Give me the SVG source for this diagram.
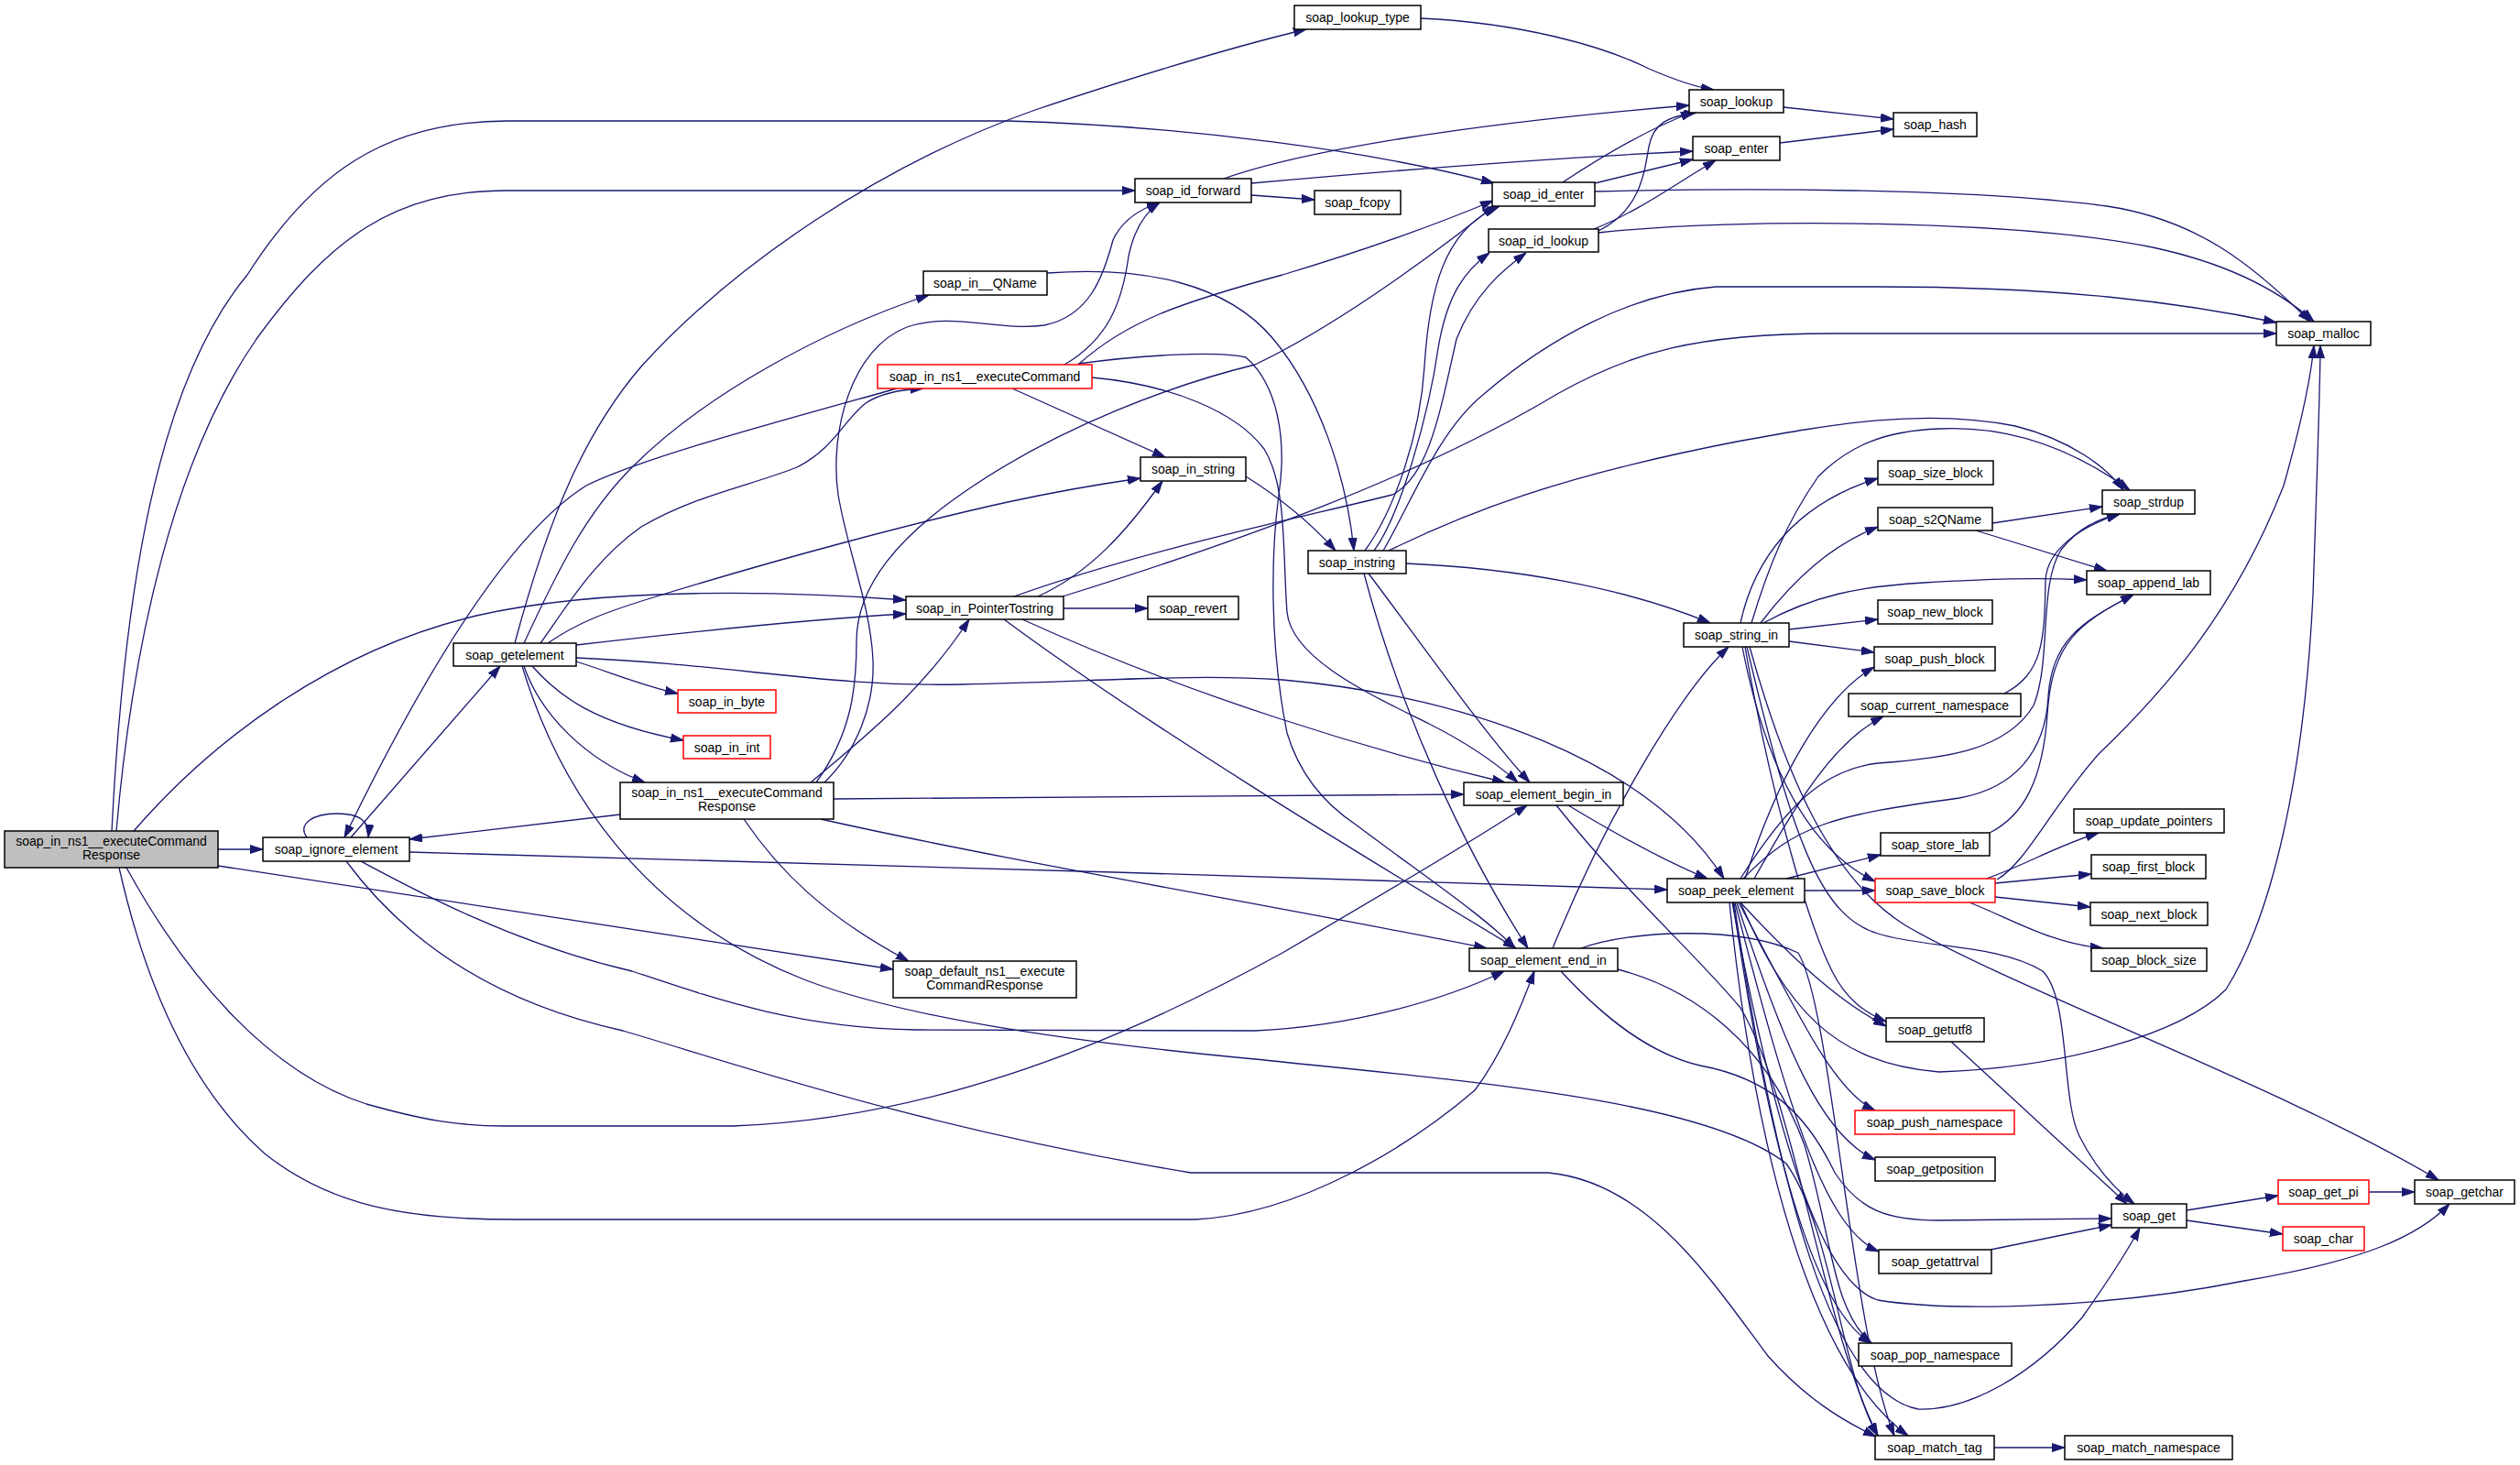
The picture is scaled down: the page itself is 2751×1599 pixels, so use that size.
<svg xmlns="http://www.w3.org/2000/svg" width="2751" height="1599" viewBox="0 0 2751 1599">
<style>
.e{fill:none;stroke:#191970;stroke-width:1.3;marker-end:url(#ah)}
.n rect{fill:#fff;stroke:#000;stroke-width:1.5}
.r rect{stroke:#ff0000}
.g rect{fill:#bfbfbf}
text{font-family:"Liberation Sans",Arial,sans-serif;font-size:14px;text-anchor:middle;fill:#000}
</style>
<defs>
<marker id="ah" viewBox="0 0 14 10" refX="14" refY="5" markerWidth="14" markerHeight="10" markerUnits="userSpaceOnUse" orient="auto"><path d="M0,0.5 L14,5 L0,9.5 z" fill="#191970" stroke="#191970" stroke-width="1"/></marker>
</defs>
<rect x="0" y="0" width="2751" height="1599" fill="#fff"/>
<g id="connectors">
<path class="e" d="M238,927 L287,927"/>
<path class="e" d="M146,907 C230,810 360,710 520,672 C660,640 860,645 989,655"/>
<path class="e" d="M122,907 C135,650 170,420 270,300 C340,190 420,132 554,132 L1100,132 C1300,138 1500,165 1631,200"/>
<path class="e" d="M127,907 C145,700 190,500 280,370 C360,260 430,208 554,208 L1239,208"/>
<path class="e" d="M138,947 C200,1060 290,1170 400,1205 C460,1222 500,1229 550,1229 L800,1229 C1000,1222 1200,1150 1400,1040 C1520,970 1620,910 1667,879"/>
<path class="e" d="M130,947 C160,1080 210,1190 290,1260 C360,1315 440,1331 560,1331 L1305,1331 C1420,1325 1540,1250 1610,1190 C1640,1150 1660,1100 1675,1060"/>
<path class="e" d="M238,945 C500,985 750,1025 975,1058"/>
<path class="e" d="M335,914 C325,900 340,888 368,888 C392,888 404,896 402,914"/>
<path class="e" d="M383,914 L546,727"/>
<path class="e" d="M447,930 C800,938 1400,958 1820,971"/>
<path class="e" d="M394,940 C450,970 560,1030 690,1060 C780,1090 870,1122 1000,1124 L1370,1125 C1480,1120 1580,1090 1642,1060"/>
<path class="e" d="M378,940 C430,1010 520,1090 680,1125 C800,1160 1000,1230 1300,1280 L1690,1280 C1800,1290 1870,1400 1930,1480 C1970,1525 2010,1550 2048,1568"/>
<path class="e" d="M562,702 C600,560 640,470 700,400 C800,290 960,180 1130,120 C1250,80 1350,50 1426,32"/>
<path class="e" d="M572,702 C610,620 640,560 690,510 C770,430 900,360 1014,322"/>
<path class="e" d="M590,702 C620,660 650,610 700,575 C760,540 820,530 870,510 C910,490 920,460 945,440 C960,430 985,425 1008,424"/>
<path class="e" d="M598,702 C630,680 660,668 720,650 C850,610 1000,570 1100,548 C1160,535 1210,527 1245,522"/>
<path class="e" d="M629,704 C750,690 880,676 989,670"/>
<path class="e" d="M629,722 C670,735 700,748 740,757"/>
<path class="e" d="M581,727 C610,760 650,790 746,808"/>
<path class="e" d="M572,727 C590,780 640,830 704,854"/>
<path class="e" d="M629,718 C800,725 900,750 1050,747 C1200,744 1300,735 1400,742 C1600,760 1800,830 1882,959"/>
<path class="e" d="M570,727 C610,860 700,1000 880,1070 C1000,1115 1200,1140 1370,1156 C1600,1180 1860,1200 1950,1270 C2000,1340 2010,1500 2050,1567"/>
<path class="e" d="M677,889 L447,916"/>
<path class="e" d="M885,854 C950,800 1010,750 1058,676"/>
<path class="e" d="M900,854 C935,820 955,770 953,720 C950,660 925,600 915,540 C905,470 930,380 990,357 C1040,340 1090,362 1140,355 C1190,345 1205,300 1215,262 C1225,240 1245,228 1266,221"/>
<path class="e" d="M891,854 C930,800 935,750 935,700 C935,640 980,585 1063,530 C1160,465 1280,420 1370,398 C1450,360 1550,290 1632,224"/>
<path class="e" d="M910,872 C1200,870 1400,868 1598,867"/>
<path class="e" d="M896,894 C1100,940 1400,990 1623,1035"/>
<path class="e" d="M812,894 C850,950 900,1000 992,1049"/>
<path class="e" d="M1161,664 L1253,664"/>
<path class="e" d="M1133,651 C1190,625 1230,580 1269,525"/>
<path class="e" d="M1107,651 C1250,600 1420,565 1520,540 C1560,520 1572,450 1590,370 C1610,320 1640,295 1666,276"/>
<path class="e" d="M1160,651 C1350,592 1550,520 1700,430 C1780,385 1850,364 2000,364 L2485,364"/>
<path class="e" d="M1116,676 C1300,760 1500,820 1643,854"/>
<path class="e" d="M1096,676 C1250,790 1480,930 1655,1035"/>
<path class="e" d="M1143,298 C1250,290 1340,310 1390,370 C1440,430 1470,520 1478,601"/>
<path class="e" d="M1162,398 C1210,370 1225,330 1232,280 C1238,250 1250,232 1266,221"/>
<path class="e" d="M1177,398 C1230,350 1290,330 1400,300 C1500,270 1580,240 1630,219"/>
<path class="e" d="M1105,424 L1272,499"/>
<path class="e" d="M1192,412 C1280,420 1350,450 1380,490 C1405,530 1400,600 1405,668 C1410,720 1500,760 1560,790 C1600,810 1630,830 1657,854"/>
<path class="e" d="M1177,397 C1250,387 1330,383 1360,390 C1395,420 1405,480 1396,540 C1388,600 1385,700 1405,800 C1420,850 1450,880 1480,900 C1560,960 1620,1000 1654,1035"/>
<path class="e" d="M979,424 C850,460 700,500 640,530 C560,580 470,720 376,914"/>
<path class="e" d="M1336,195 C1420,165 1600,135 1844,115"/>
<path class="e" d="M1366,200 C1500,188 1700,172 1848,165"/>
<path class="e" d="M1366,213 L1435,218"/>
<path class="e" d="M1706,199 C1750,170 1800,140 1849,122"/>
<path class="e" d="M1741,200 L1848,174"/>
<path class="e" d="M1741,209 C1900,205 2150,205 2300,225 C2400,240 2460,290 2522,351"/>
<path class="e" d="M1740,250 C1790,230 1830,200 1873,175"/>
<path class="e" d="M1745,252 C1790,230 1795,190 1800,160 C1805,135 1820,127 1852,123"/>
<path class="e" d="M1745,254 C1900,237 2200,240 2350,270 C2420,285 2480,310 2526,351"/>
<path class="e" d="M1551,20 C1660,25 1750,50 1800,75 C1830,88 1850,95 1871,98"/>
<path class="e" d="M1947,117 L2067,130"/>
<path class="e" d="M1943,156 L2067,141"/>
<path class="e" d="M1535,615 C1650,620 1770,640 1867,680"/>
<path class="e" d="M1494,626 C1550,700 1620,800 1670,854"/>
<path class="e" d="M1489,626 C1530,780 1600,930 1668,1035"/>
<path class="e" d="M1490,601 C1520,560 1550,480 1555,400 C1560,320 1575,250 1637,225"/>
<path class="e" d="M1500,601 C1530,560 1560,450 1570,380 C1580,320 1600,295 1626,276"/>
<path class="e" d="M1510,601 C1540,550 1570,470 1620,430 C1690,370 1780,320 1873,313 L2050,313 C2250,313 2380,330 2485,352"/>
<path class="e" d="M1516,601 C1600,560 1700,520 1896,482 C2000,463 2100,445 2200,465 C2260,480 2300,510 2318,535"/>
<path class="e" d="M1360,520 C1400,545 1430,570 1458,601"/>
<path class="e" d="M1900,680 C1915,610 1960,550 2050,522"/>
<path class="e" d="M1912,680 C1930,620 1950,570 1985,520 C2020,485 2060,470 2117,468 C2200,464 2270,495 2325,535"/>
<path class="e" d="M1922,680 C1960,630 2000,595 2050,575"/>
<path class="e" d="M1925,680 C1980,650 2030,640 2100,636 C2170,632 2220,630 2278,633"/>
<path class="e" d="M1953,687 L2050,676"/>
<path class="e" d="M1953,700 L2046,712"/>
<path class="e" d="M1905,706 C1930,850 1970,1000 2000,1060 C2015,1090 2035,1105 2059,1115"/>
<path class="e" d="M1902,706 C1930,850 1980,930 2047,962"/>
<path class="e" d="M1910,706 C1950,850 2000,960 2080,1010 C2200,1080 2500,1190 2662,1288"/>
<path class="e" d="M1907,706 C1960,930 1990,1000 2050,1019 C2100,1035 2180,1030 2230,1060 C2260,1090 2250,1200 2270,1240 C2285,1270 2305,1295 2330,1314"/>
<path class="e" d="M1695,1035 C1750,900 1830,760 1887,706"/>
<path class="e" d="M1704,1060 C1750,1110 1800,1150 1856,1163 C1931,1177 1972,1215 2003,1280 C2030,1321 2060,1332 2117,1332 L2305,1330"/>
<path class="e" d="M1726,1035 C1780,1015 1900,1010 1963,1040 C2000,1100 2020,1450 2068,1567"/>
<path class="e" d="M1766,1058 C1850,1080 1930,1140 1970,1250 C2000,1350 2000,1430 2043,1466"/>
<path class="e" d="M1712,879 C1780,920 1830,945 1864,959"/>
<path class="e" d="M1699,879 C1780,980 1850,1040 1900,1100 C1960,1200 1990,1450 2050,1567"/>
<path class="e" d="M1970,972 L2047,972"/>
<path class="e" d="M1950,959 L2053,933"/>
<path class="e" d="M1915,959 C1960,880 2000,810 2056,782"/>
<path class="e" d="M1905,959 C1940,850 1990,760 2046,728"/>
<path class="e" d="M1903,959 C1960,900 2000,890 2139,871 C2200,860 2233,820 2236,760 C2240,700 2270,680 2329,649"/>
<path class="e" d="M1900,959 C1950,880 1990,840 2050,833 C2120,828 2190,820 2220,770 C2240,720 2225,640 2250,600 C2270,575 2290,567 2314,561"/>
<path class="e" d="M1900,985 C1950,1100 2000,1160 2117,1170 C2250,1165 2380,1130 2430,1080 C2480,1000 2515,850 2525,650 C2530,500 2533,420 2533,377"/>
<path class="e" d="M1900,985 C1960,1050 2010,1095 2059,1120"/>
<path class="e" d="M1898,985 C1960,1100 2000,1190 2047,1212"/>
<path class="e" d="M1896,985 C1950,1150 1990,1240 2047,1266"/>
<path class="e" d="M1894,985 C1950,1200 1990,1340 2051,1366"/>
<path class="e" d="M1892,985 C1930,1250 1980,1430 2043,1466"/>
<path class="e" d="M1888,985 C1920,1300 1990,1500 2083,1567"/>
<path class="e" d="M1893,985 C1940,1300 2000,1520 2094,1538 C2150,1540 2220,1500 2273,1438 C2300,1400 2320,1370 2336,1340"/>
<path class="e" d="M1891,985 C1940,1250 1990,1400 2050,1419 C2130,1432 2300,1428 2450,1398 C2580,1376 2640,1350 2674,1314"/>
<path class="e" d="M2175,571 L2295,553"/>
<path class="e" d="M2157,579 L2300,623"/>
<path class="e" d="M2188,757 C2230,735 2232,700 2233,633 C2235,600 2270,575 2314,561"/>
<path class="e" d="M2172,909 C2210,890 2230,850 2235,780 C2240,700 2270,680 2329,649"/>
<path class="e" d="M2168,959 C2210,945 2240,925 2291,909"/>
<path class="e" d="M2178,964 L2283,954"/>
<path class="e" d="M2178,979 L2282,990"/>
<path class="e" d="M2150,985 C2200,1005 2240,1030 2296,1035"/>
<path class="e" d="M2180,960 C2211,943 2240,880 2291,823 C2363,754 2439,668 2493,530 C2510,470 2522,420 2526,377"/>
<path class="e" d="M2130,1137 L2322,1314"/>
<path class="e" d="M2173,1364 L2305,1337"/>
<path class="e" d="M2387,1321 L2487,1305"/>
<path class="e" d="M2387,1332 L2492,1347"/>
<path class="e" d="M2586,1301 L2636,1301"/>
<path class="e" d="M2177,1580 L2254,1580"/>
</g>
<g id="node-root" class="n g"><rect x="5" y="907" width="233" height="40"/><text x="121.5" y="922.5">soap_in_ns1__executeCommand</text><text x="121.5" y="937.5">Response</text></g>
<g id="node-soap_ignore_element" class="n"><rect x="287" y="914" width="160" height="26"/><text x="367" y="932">soap_ignore_element</text></g>
<g id="node-soap_getelement" class="n"><rect x="495" y="702" width="134" height="25"/><text x="562" y="719.5">soap_getelement</text></g>
<g id="node-soap_in_ns1__executeCommandResponse" class="n"><rect x="677" y="854" width="233" height="40"/><text x="793.5" y="869.5">soap_in_ns1__executeCommand</text><text x="793.5" y="884.5">Response</text></g>
<g id="node-soap_default_ns1__executeCommandResponse" class="n"><rect x="975" y="1049" width="200" height="40"/><text x="1075" y="1064.5">soap_default_ns1__execute</text><text x="1075" y="1079.5">CommandResponse</text></g>
<g id="node-soap_in_PointerTostring" class="n"><rect x="989" y="651" width="172" height="25"/><text x="1075" y="668.5">soap_in_PointerTostring</text></g>
<g id="node-soap_in__QName" class="n"><rect x="1008" y="296" width="135" height="26"/><text x="1075.5" y="314">soap_in__QName</text></g>
<g id="node-soap_in_ns1__executeCommand" class="n r"><rect x="958" y="398" width="234" height="26"/><text x="1075" y="416">soap_in_ns1__executeCommand</text></g>
<g id="node-soap_id_forward" class="n"><rect x="1239" y="195" width="127" height="26"/><text x="1302.5" y="213">soap_id_forward</text></g>
<g id="node-soap_in_string" class="n"><rect x="1245" y="499" width="115" height="26"/><text x="1302.5" y="517">soap_in_string</text></g>
<g id="node-soap_in_byte" class="n r"><rect x="740" y="753" width="107" height="25"/><text x="793.5" y="770.5">soap_in_byte</text></g>
<g id="node-soap_in_int" class="n r"><rect x="746" y="803" width="95" height="25"/><text x="793.5" y="820.5">soap_in_int</text></g>
<g id="node-soap_revert" class="n"><rect x="1253" y="651" width="99" height="25"/><text x="1302.5" y="668.5">soap_revert</text></g>
<g id="node-soap_lookup_type" class="n"><rect x="1413" y="6" width="138" height="26"/><text x="1482" y="24">soap_lookup_type</text></g>
<g id="node-soap_fcopy" class="n"><rect x="1435" y="208" width="94" height="26"/><text x="1482" y="226">soap_fcopy</text></g>
<g id="node-soap_instring" class="n"><rect x="1428" y="601" width="107" height="25"/><text x="1481.5" y="618.5">soap_instring</text></g>
<g id="node-soap_id_enter" class="n"><rect x="1629" y="199" width="112" height="26"/><text x="1685" y="217">soap_id_enter</text></g>
<g id="node-soap_id_lookup" class="n"><rect x="1625" y="250" width="120" height="25"/><text x="1685" y="267.5">soap_id_lookup</text></g>
<g id="node-soap_element_begin_in" class="n"><rect x="1598" y="854" width="174" height="25"/><text x="1685" y="871.5">soap_element_begin_in</text></g>
<g id="node-soap_element_end_in" class="n"><rect x="1604" y="1035" width="162" height="25"/><text x="1685" y="1052.5">soap_element_end_in</text></g>
<g id="node-soap_lookup" class="n"><rect x="1844" y="98" width="103" height="25"/><text x="1895.5" y="115.5">soap_lookup</text></g>
<g id="node-soap_enter" class="n"><rect x="1848" y="149" width="95" height="26"/><text x="1895.5" y="167">soap_enter</text></g>
<g id="node-soap_hash" class="n"><rect x="2067" y="123" width="91" height="26"/><text x="2112.5" y="141">soap_hash</text></g>
<g id="node-soap_malloc" class="n"><rect x="2485" y="351" width="103" height="26"/><text x="2536.5" y="369">soap_malloc</text></g>
<g id="node-soap_string_in" class="n"><rect x="1838" y="680" width="115" height="26"/><text x="1895.5" y="698">soap_string_in</text></g>
<g id="node-soap_peek_element" class="n"><rect x="1820" y="959" width="150" height="26"/><text x="1895" y="977">soap_peek_element</text></g>
<g id="node-soap_size_block" class="n"><rect x="2050" y="503" width="126" height="26"/><text x="2113" y="521">soap_size_block</text></g>
<g id="node-soap_s2QName" class="n"><rect x="2050" y="554" width="125" height="25"/><text x="2112.5" y="571.5">soap_s2QName</text></g>
<g id="node-soap_strdup" class="n"><rect x="2295" y="535" width="101" height="26"/><text x="2345.5" y="553">soap_strdup</text></g>
<g id="node-soap_append_lab" class="n"><rect x="2278" y="623" width="135" height="26"/><text x="2345.5" y="641">soap_append_lab</text></g>
<g id="node-soap_new_block" class="n"><rect x="2050" y="655" width="125" height="26"/><text x="2112.5" y="673">soap_new_block</text></g>
<g id="node-soap_push_block" class="n"><rect x="2046" y="706" width="132" height="26"/><text x="2112" y="724">soap_push_block</text></g>
<g id="node-soap_current_namespace" class="n"><rect x="2018" y="757" width="188" height="25"/><text x="2112" y="774.5">soap_current_namespace</text></g>
<g id="node-soap_store_lab" class="n"><rect x="2053" y="909" width="119" height="25"/><text x="2112.5" y="926.5">soap_store_lab</text></g>
<g id="node-soap_save_block" class="n r"><rect x="2047" y="959" width="131" height="26"/><text x="2112.5" y="977">soap_save_block</text></g>
<g id="node-soap_update_pointers" class="n"><rect x="2264" y="883" width="164" height="26"/><text x="2346" y="901">soap_update_pointers</text></g>
<g id="node-soap_first_block" class="n"><rect x="2283" y="933" width="125" height="26"/><text x="2345.5" y="951">soap_first_block</text></g>
<g id="node-soap_next_block" class="n"><rect x="2282" y="985" width="128" height="25"/><text x="2346" y="1002.5">soap_next_block</text></g>
<g id="node-soap_block_size" class="n"><rect x="2283" y="1035" width="126" height="25"/><text x="2346" y="1052.5">soap_block_size</text></g>
<g id="node-soap_getutf8" class="n"><rect x="2059" y="1111" width="107" height="26"/><text x="2112.5" y="1129">soap_getutf8</text></g>
<g id="node-soap_push_namespace" class="n r"><rect x="2025" y="1212" width="174" height="26"/><text x="2112" y="1230">soap_push_namespace</text></g>
<g id="node-soap_getposition" class="n"><rect x="2047" y="1263" width="131" height="26"/><text x="2112.5" y="1281">soap_getposition</text></g>
<g id="node-soap_getattrval" class="n"><rect x="2051" y="1364" width="123" height="26"/><text x="2112.5" y="1382">soap_getattrval</text></g>
<g id="node-soap_pop_namespace" class="n"><rect x="2029" y="1466" width="167" height="25"/><text x="2112.5" y="1483.5">soap_pop_namespace</text></g>
<g id="node-soap_match_tag" class="n"><rect x="2047" y="1567" width="130" height="26"/><text x="2112" y="1585">soap_match_tag</text></g>
<g id="node-soap_match_namespace" class="n"><rect x="2254" y="1567" width="183" height="26"/><text x="2345.5" y="1585">soap_match_namespace</text></g>
<g id="node-soap_get" class="n"><rect x="2305" y="1314" width="82" height="26"/><text x="2346" y="1332">soap_get</text></g>
<g id="node-soap_get_pi" class="n r"><rect x="2487" y="1288" width="99" height="26"/><text x="2536.5" y="1306">soap_get_pi</text></g>
<g id="node-soap_char" class="n r"><rect x="2492" y="1339" width="89" height="26"/><text x="2536.5" y="1357">soap_char</text></g>
<g id="node-soap_getchar" class="n"><rect x="2636" y="1288" width="109" height="26"/><text x="2690.5" y="1306">soap_getchar</text></g>
</svg>
